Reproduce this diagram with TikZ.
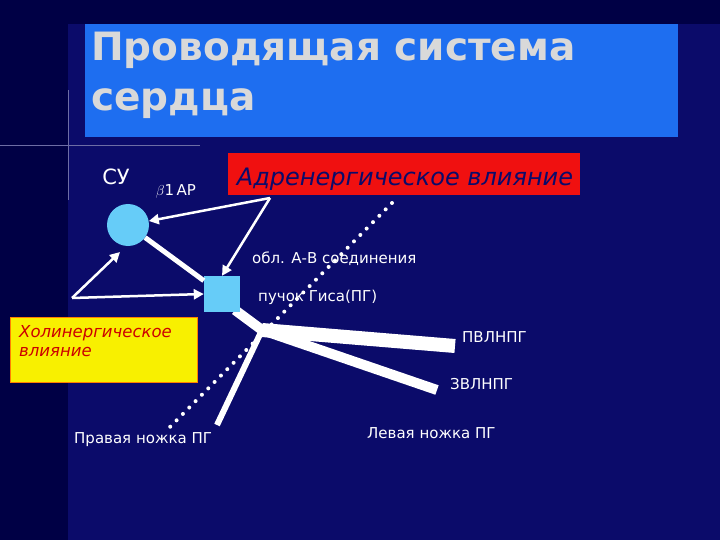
\documentclass[tikz,border=0pt]{standalone}
\usepackage{fontspec}
\setmainfont{DejaVu Sans}
\usetikzlibrary{arrows.meta}
\definecolor{bg}{HTML}{0B0B6A}
\definecolor{bgl}{HTML}{000045}
\definecolor{tb}{HTML}{1E6EF0}
\definecolor{lb}{HTML}{66CCF8}
\definecolor{rd}{HTML}{F01010}
\definecolor{ye}{HTML}{F8F000}
\begin{document}
\begin{tikzpicture}[x=1pt,y=-1pt,
 lbl/.style={text=white,font=\fontsize{15}{17}\selectfont,anchor=west,inner sep=0},
 arr/.style={draw=white,line width=2.5pt,-{Triangle[length=10pt,width=10pt]}},
 thick band/.style={draw=white,line width=#1}]
\useasboundingbox (0,0) rectangle (720,540);
\fill[bg] (0,0) rectangle (720,540);
\fill[bgl] (0,0) rectangle (68,540);
\fill[bgl] (68,0) rectangle (720,24);
\draw[white!40!bg,line width=0.6pt] (0,145) -- (200,145);
\draw[white!40!bg,line width=0.6pt] (68,90) -- (68,200);
\node[fill=tb,minimum width=593pt,minimum height=113pt,anchor=north west,inner sep=0] (title) at (85,24) {};
\node[anchor=north west,align=left,text=white!85!black,font=\fontsize{39}{50}\selectfont\bfseries,inner sep=0] (tt) at (91,32) {Проводящая система\\сердца};
\node[text=white,font=\fontsize{21}{24}\selectfont,inner sep=0] (su) at (116,177) {СУ};
\node[text=white,font=\fontsize{15}{17}\selectfont,inner sep=0] (beta) at (176,191) {$\beta$1\,AP};
\node[fill=rd,minimum width=352pt,minimum height=42pt,anchor=north west,inner sep=0] (adr) at (228,153) {};
\node[text=bg,font=\fontsize{24}{26}\selectfont\itshape,inner sep=0] (adrt) at (405,179) {Адренергическое влияние};
\node[fill=ye,draw=orange,line width=1pt,minimum width=187pt,minimum height=65pt,anchor=north west,inner sep=0] (chol) at (10,317) {};
\node[anchor=north west,align=left,text=red!80!black,font=\fontsize{16.5}{19}\selectfont\itshape,inner sep=0] (cholt) at (19,325) {Холинергическое\\влияние};
\coordinate (j) at (262,330);
\coordinate (pv) at (455,346);
\coordinate (zv) at (437,390);
\coordinate (pr) at (217,425);
\coordinate (sq) at (235,310);
\draw[thick band=14pt] (j) -- (pv);
\draw[thick band=10pt] (j) -- (zv);
\draw[thick band=6pt] (j) -- (pr);
\draw[thick band=10pt] (sq) -- (j);
\draw[white,line width=4pt,dash pattern=on 0pt off 9pt,line cap=round] (392,203) -- (165,432);
\node[circle,fill=lb,minimum size=42pt,inner sep=0] (su0) at (128,225) {};
\node[fill=lb,minimum size=36pt,inner sep=0] (av) at (222,294) {};
\draw[white,line width=5pt] (su0) -- (av);
\coordinate (a0) at (270,198);
\coordinate (c0) at (72,298);
\draw[arr] (a0) -- (su0);
\draw[arr] (a0) -- (av.north);
\draw[arr] (c0) -- (120,252);
\draw[arr] (c0) -- (av.west);
\node[lbl] (l1) at (252,259) {обл. А-В соединения};
\node[lbl] (l2) at (258,297) {пучок Гиса(ПГ)};
\node[lbl] (l3) at (462,337) {ПВЛНПГ};
\node[lbl] (l4) at (450,384) {ЗВЛНПГ};
\node[lbl] (l5) at (74,440) {Правая ножка ПГ};
\node[lbl] (l6) at (367,433) {Левая ножка ПГ};
\end{tikzpicture}
\end{document}
